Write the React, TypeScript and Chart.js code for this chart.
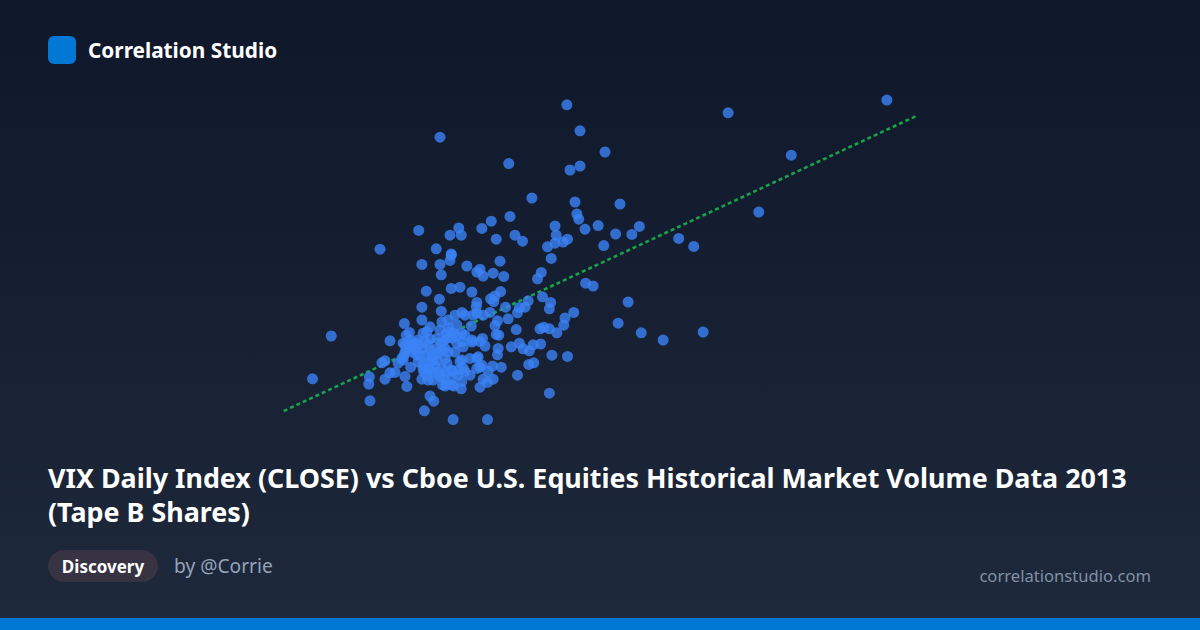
import React, { useEffect, useRef } from "react";
import { Chart, registerables } from "chart.js";

Chart.register(...registerables);

const vixClose = [
  15.37,15.58,13.34,15.98,14.44,15.42,15.58,14.81,15.50,16.22,15.53,15.56,14.46,14.16,13.64,14.01,13.00,13.50,13.68,15.18,
  15.87,15.66,16.53,16.41,16.15,14.54,14.66,14.24,15.20,15.38,15.31,15.18,15.06,15.96,17.16,17.40,12.38,13.28,13.52,13.52,
  13.50,15.12,13.05,13.34,13.36,13.77,14.30,13.98,13.93,14.03,14.19,14.36,14.96,14.90,15.67,15.79,13.12,13.52,13.66,13.85,
  14.31,17.95,20.49,18.96,18.44,17.55,16.91,16.56,16.19,16.35,11.60,11.30,12.22,12.20,12.21,12.46,12.54,12.62,12.41,12.46,
  12.81,12.78,12.87,12.54,12.77,12.80,12.85,13.05,13.05,13.33,13.36,13.93,13.92,14.15,14.22,14.20,14.39,14.75,14.98,15.11,
  15.09,14.70,14.61,14.58,14.43,15.48,15.34,15.32,15.21,15.09,15.00,14.94,14.56,14.26,14.22,14.24,14.28,14.06,14.27,14.26,
  14.48,14.61,14.67,14.77,14.83,14.95,15.13,15.38,14.84,14.76,14.58,14.32,14.18,15.09,14.10,13.55,13.09,13.24,13.18,13.68,
  13.98,14.19,14.10,14.03,14.11,13.98,13.93,14.01,13.95,13.82,13.93,13.69,13.66,13.74,13.69,13.53,13.42,13.38,13.34,13.15,
  13.05,13.53,13.37,13.07,13.18,13.07,13.21,13.21,13.42,13.02,12.75,12.67,12.73,12.76,12.78,12.89,12.97,13.05,13.07,13.18,
  13.13,13.29,13.42,13.45,13.39,13.50,13.55,13.61,13.47,13.58,13.69,13.74,13.87,13.93,14.03,14.14,13.84,13.69,13.61,13.69,
  13.71,13.85,13.98,14.02,13.29,12.99,12.91,12.89,13.15,13.34,13.24,13.47,12.99,13.58,13.31,13.45,13.13,13.53,13.64,13.18,
  13.37,13.32,13.74,13.23,13.40,13.82,12.81,13.85,12.75,12.83,12.92,13.00,13.10,12.86,13.12,13.15,13.26,13.15,13.23,13.08,
  13.44,13.53,13.48,13.60,13.36,13.37,13.53,13.63,13.44,13.71,13.44,13.56,12.97,12.78,13.29,13.18,
];

const tapeBShares = [
  1088,1023,1007,970,941,925,935,855,845,840,815,802,809,797,780,779,774,762,762,785,
  786,777,784,764,765,762,747,752,762,752,745,742,733,736,754,734,727,728,715,712,
  699,704,689,689,663,685,697,677,670,660,667,659,669,653,642,635,622,629,632,620,
  621,1068,1100,962,820,520,500,518,542,595,510,403,348,390,408,402,418,419,443,448,
  384,409,432,498,541,512,519,550,582,602,572,594,583,603,610,596,582,598,608,594,
  578,582,581,568,553,569,555,537,518,528,532,528,526,548,536,514,512,485,479,463,
  483,492,478,473,488,490,462,459,443,439,412,432,435,367,301,301,323,347,360,378,
  382,402,394,402,421,432,429,437,458,454,454,450,446,421,396,388,385,388,408,400,
  402,425,429,429,425,438,446,462,454,462,450,442,454,460,488,488,492,479,517,533,
  521,479,479,504,496,521,517,538,550,562,569,562,562,567,562,569,535,517,492,496,
  483,500,496,504,504,500,492,470,488,525,455,470,445,470,420,442,412,405,425,502,
  545,470,512,400,405,412,475,495,492,482,478,488,498,500,462,445,435,428,420,420,
  515,505,530,510,490,475,422,412,420,430,390,385,462,470,450,475,
];

const trendVix = [10.84, 20.96];
const trendShares = [322.5, 1060];

const brandName = "Correlation Studio";
const titleLines = [
  "VIX Daily Index (CLOSE) vs Cboe U.S. Equities Historical Market Volume Data 2013",
  "(Tape B Shares)",
];
const categoryLabel = "Discovery";
const authorLabel = "by @Corrie";
const siteLabel = "correlationstudio.com";

const FONT = '"Noto Sans", sans-serif';

export default function App() {
  const ref = useRef<HTMLCanvasElement | null>(null);

  useEffect(() => {
    document.body.style.margin = "0";
    document.body.style.overflow = "hidden";
    const canvas = ref.current;
    if (!canvas) return;
    const chart = new Chart(canvas, {
      type: "scatter",
      data: {
        datasets: [
          {
            label: "Tape B Shares vs VIX Close",
            data: vixClose.map((x, i) => ({ x, y: tapeBShares[i] })),
            backgroundColor: "rgba(59,130,246,0.8)",
            borderWidth: 0,
            pointRadius: 5.5,
            pointHoverRadius: 5.5,
            order: 1,
          },
          {
            label: "Trend",
            data: trendVix.map((x, i) => ({ x, y: trendShares[i] })),
            showLine: true,
            borderColor: "#16a34a",
            borderWidth: 2.6,
            borderDash: [4, 3],
            pointRadius: 0,
            fill: false,
            order: 2,
          },
        ],
      },
      options: {
        animation: false,
        responsive: false,
        devicePixelRatio: 1,
        layout: { padding: 0, autoPadding: false },
        plugins: { legend: { display: false }, tooltip: { enabled: false } },
        scales: {
          x: { type: "linear", display: false, min: 10.14, max: 21.66 },
          y: { type: "linear", display: false, min: 275, max: 1150 },
        },
      },
    });
    return () => chart.destroy();
  }, []);

  return (
    <div
      style={{
        position: "absolute",
        left: 0,
        top: 0,
        width: 1200,
        height: 630,
        overflow: "hidden",
        background: "linear-gradient(180deg, #0f172a 0%, #1e293b 100%)",
        fontFamily: FONT,
        color: "#ffffff",
      }}
    >
      <div style={{ position: "absolute", left: 48, top: 36, width: 28, height: 28, borderRadius: 6, background: "#0078d4" }} />
      <div style={{ position: "absolute", left: 88, top: 35, fontSize: 20.8, lineHeight: "30px", fontWeight: 700, whiteSpace: "nowrap" }}>
        {brandName}
      </div>
      <canvas ref={ref} width={720} height={350} style={{ position: "absolute", left: 240, top: 80, width: 720, height: 350 }} />
      <div style={{ position: "absolute", left: 48, top: 461, width: 1104, fontSize: 26.87, lineHeight: "34px", fontWeight: 700 }}>
        {titleLines.map((t) => (
          <div key={t} style={{ whiteSpace: "nowrap" }}>{t}</div>
        ))}
      </div>
      <div
        style={{
          position: "absolute", left: 48, top: 550, width: 110, height: 32, borderRadius: 16,
          backgroundColor: "#383342", textAlign: "center",
          fontSize: 17, lineHeight: "33px", fontWeight: 700,
        }}
      >
        {categoryLabel}
      </div>
      <div style={{ position: "absolute", left: 174, top: 553, fontSize: 19.2, lineHeight: "26px", color: "#94a3b8", whiteSpace: "nowrap" }}>
        {authorLabel}
      </div>
      <div style={{ position: "absolute", right: 49, top: 563, fontSize: 16.6, lineHeight: "26px", color: "#94a3b8", opacity: 0.85, whiteSpace: "nowrap" }}>
        {siteLabel}
      </div>
      <div style={{ position: "absolute", left: 0, top: 618, width: 1200, height: 12, background: "#0078d4" }} />
    </div>
  );
}
